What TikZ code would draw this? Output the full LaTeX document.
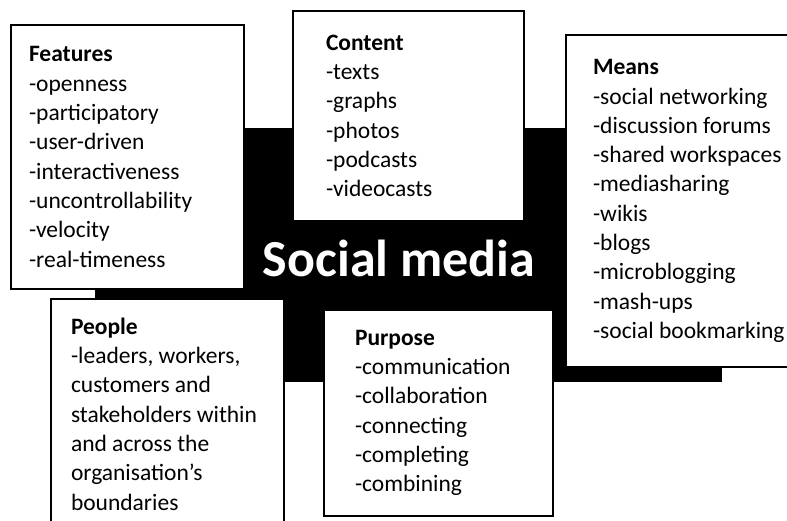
\documentclass[tikz,border=0pt]{standalone}
\usepackage{fontspec}
\setmainfont{Carlito}
\tikzset{
    panel/.style={draw, line width=2pt, fill=white, anchor=north west, align=flush left,
        font=\fontsize{23.5}{29.3}\selectfont}, % white boxes round the black block
    title/.style={text=white, font=\bfseries\fontsize{52}{60}\selectfont} % centre caption
}
\begin{document}
\begin{tikzpicture}[x=1pt, y=-1pt]
    \useasboundingbox (0,0) rectangle (787,521);

    \fill[black] (95,128) rectangle (722,382);
    \node[title, anchor=base] (social) at (399,277) {Social media};

    \node[panel, inner xsep=18pt, text width=197pt, minimum height=264pt] (features) at (10,24)
        {\textbf{Features}\\-openness\\-participatory\\-user-driven\\-interactiveness\\-uncontrollability\\-velocity\\-real-timeness};
    \node[panel, inner xsep=33pt, text width=165pt, minimum height=210pt] (content) at (292,10)
        {\textbf{Content}\\-texts\\-graphs\\-photos\\-podcasts\\-videocasts};
    \node[panel, inner xsep=27pt, text width=205pt, minimum height=332pt] (means) at (565,34)
        {\textbf{Means}\\-social networking\\-discussion forums\\-shared workspaces\\-mediasharing\\-wikis\\-blogs\\-microblogging\\-mash-ups\\-social bookmarking};
    \node[panel, inner xsep=20pt, text width=193pt, minimum height=230pt] (people) at (50,298)
        {\textbf{People}\\-leaders, workers,\\customers and\\stakeholders within\\and across the\\organisation’s\\boundaries};
    \node[panel, inner xsep=31pt, text width=167pt, minimum height=206pt] (purpose) at (323,309)
        {\textbf{Purpose}\\-communication\\-collaboration\\-connecting\\-completing\\-combining};
\end{tikzpicture}
\end{document}
